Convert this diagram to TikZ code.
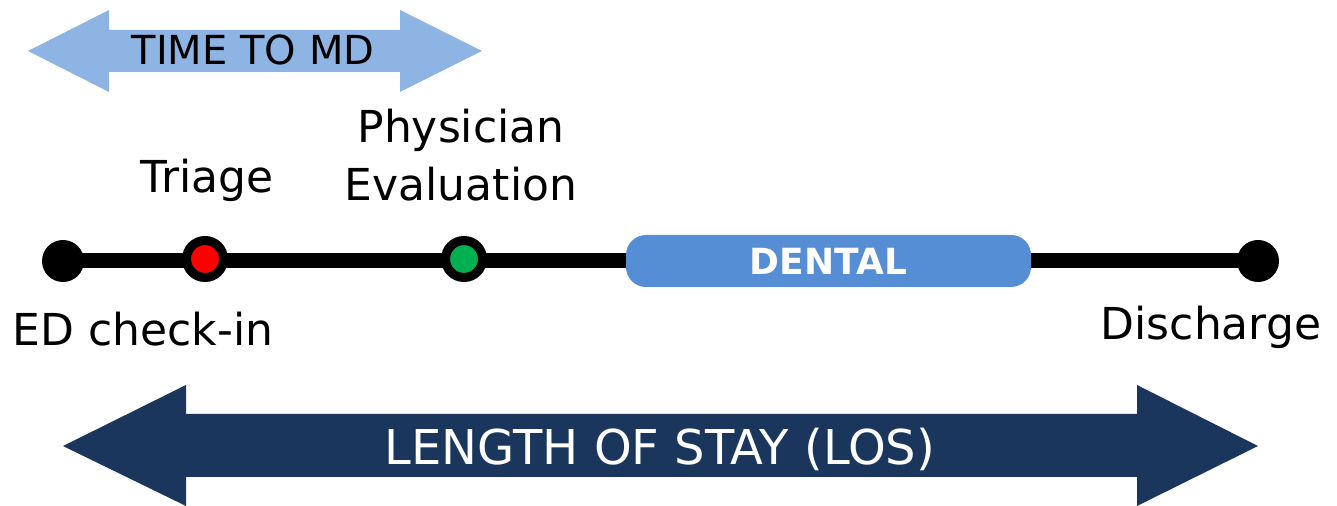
\documentclass[tikz,border=0pt]{standalone}
\usepackage{fontspec}
\setmainfont{DejaVu Sans}
\definecolor{mdblue}{HTML}{8EB4E3}
\definecolor{dentalblue}{HTML}{558ED5}
\definecolor{losblue}{HTML}{1B365D}
\definecolor{triagered}{HTML}{FF0000}
\definecolor{evalgreen}{HTML}{00B050}
\begin{document}
\begin{tikzpicture}[x=0.5pt,y=-0.5pt]
\tikzstyle{every node}+=[inner sep=0pt]
\tikzstyle{stoplabel}=[font=\fontsize{22}{29}\selectfont, anchor=base, align=center]
\tikzstyle{enddot}=[circle, fill=black, minimum size=21pt]
\tikzstyle{ringdot}=[circle, draw=black, line width=4.5pt, minimum size=18.5pt]
\useasboundingbox (0,0) rectangle (1337,506);
% time to md arrow
\fill [mdblue] (28,51) -- (109,10) -- (109,30) -- (400,30) -- (400,10) -- (482,51)
  -- (400,92) -- (400,72) -- (109,72) -- (109,92) -- cycle;
\node (md) [font=\fontsize{20}{24}\selectfont, anchor=base] at (253,65) {TIME TO MD};
% length of stay arrow
\fill [losblue] (63,446) -- (186,385) -- (186,414) -- (1137,414) -- (1137,385) -- (1258,446)
  -- (1137,506) -- (1137,477) -- (186,477) -- (186,506) -- cycle;
\node (los) [font=\fontsize{24}{28}\selectfont, anchor=base, text=white] at (660,465) {LENGTH OF STAY (LOS)};
% timeline
\node (checkin) [enddot] at (63,261) {};
\node (discharge) [enddot] at (1258,261) {};
\draw [black, line width=7.5pt] (checkin.center) -- (discharge.center);
\node (triage) [ringdot, fill=triagered] at (205,259) {};
\node (physician) [ringdot, fill=evalgreen] at (464,259) {};
\node (dental) [fill=dentalblue, rounded corners=10pt, minimum width=202.5pt, minimum height=26pt,
  text=white, font=\fontsize{18}{22}\selectfont\bfseries] at (828.5,261) {DENTAL};
\node (triagetext) [stoplabel] at (207,193) {Triage};
\node (physiciantext) [stoplabel] at (461,201) {Physician\\Evaluation};
\node (checkintext) [stoplabel] at (143,346) {ED check-in};
\node (dischargetext) [stoplabel] at (1211,340) {Discharge};
\end{tikzpicture}
\end{document}
